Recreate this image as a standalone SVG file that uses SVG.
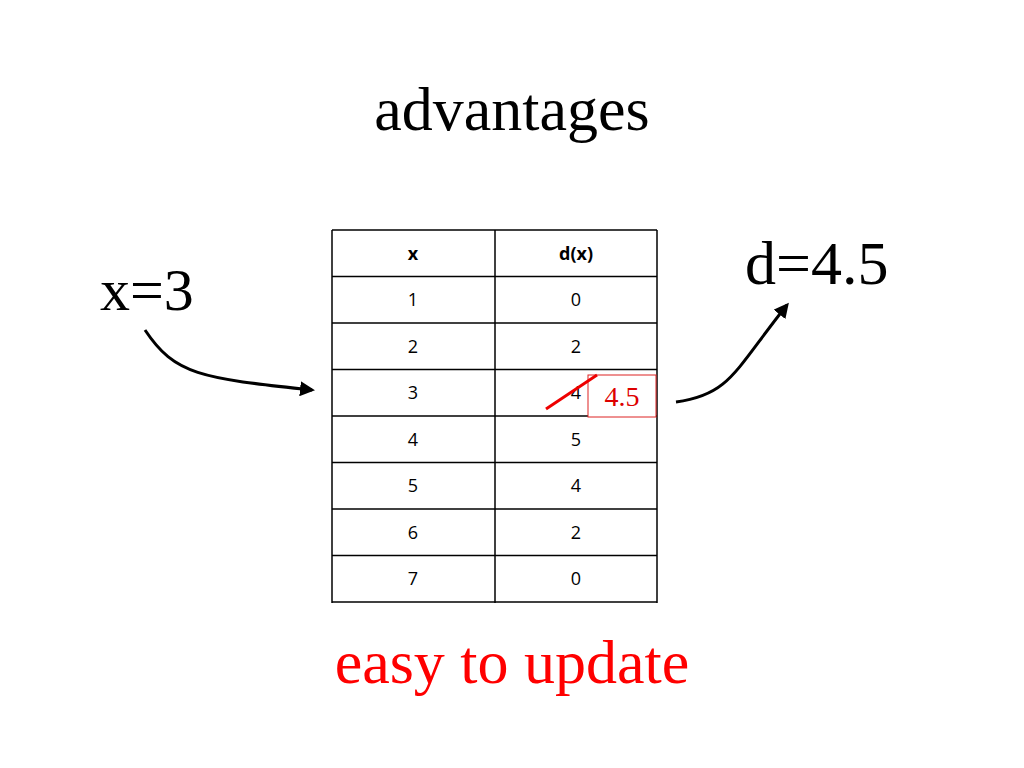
<svg xmlns="http://www.w3.org/2000/svg" width="1024" height="768" viewBox="0 0 1024 768">
<style>
.serif{font-family:"Liberation Serif","Times New Roman",serif}
.cell{font-family:"Open Sans","Noto Sans",sans-serif;font-size:18px;text-anchor:middle}
.ln{stroke:#000;stroke-width:1.5}
</style>
<defs><marker id="ah" viewBox="0 0 10 10" refX="8" refY="5" markerWidth="5" markerHeight="5" orient="auto"><path d="M0,0L10,5L0,10z" fill="#000"/></marker></defs>
<rect width="1024" height="768" fill="#fff"/>
<text class="serif" x="512" y="130" font-size="62" text-anchor="middle">advantages</text>
<g id="x3"><text class="serif" x="100" y="310" font-size="60">x=3</text></g>
<g id="d45"><text class="serif" x="745" y="284" font-size="62">d=4.5</text></g>
<g id="table">
<g class="ln">
<line x1="332" y1="230" x2="332" y2="603"/><line x1="495" y1="230" x2="495" y2="603"/><line x1="657" y1="230" x2="657" y2="603"/>
<line x1="332" y1="230" x2="657" y2="230"/><line x1="332" y1="276.5" x2="657" y2="276.5"/><line x1="332" y1="323" x2="657" y2="323"/><line x1="332" y1="369.5" x2="657" y2="369.5"/><line x1="332" y1="416" x2="657" y2="416"/><line x1="332" y1="462.5" x2="657" y2="462.5"/><line x1="332" y1="509" x2="657" y2="509"/><line x1="332" y1="555.5" x2="657" y2="555.5"/><line x1="332" y1="602" x2="657" y2="602"/>
</g>
<text class="cell" x="413" y="260" font-weight="bold">x</text><text class="cell" x="576" y="260" font-weight="bold">d(x)</text>
<text class="cell" x="413" y="306">1</text><text class="cell" x="576" y="306">0</text>
<text class="cell" x="413" y="353">2</text><text class="cell" x="576" y="353">2</text>
<text class="cell" x="413" y="399">3</text><text class="cell" x="576" y="399">4</text>
<text class="cell" x="413" y="446">4</text><text class="cell" x="576" y="446">5</text>
<text class="cell" x="413" y="492">5</text><text class="cell" x="576" y="492">4</text>
<text class="cell" x="413" y="539">6</text><text class="cell" x="576" y="539">2</text>
<text class="cell" x="413" y="585">7</text><text class="cell" x="576" y="585">0</text>
</g>
<g id="update">
<rect x="588" y="375" width="68" height="42" fill="#fff" stroke="#d22" stroke-width="1"/>
<line x1="546" y1="409" x2="597" y2="375" stroke="#e00" stroke-width="3"/>
<text x="622" y="406" font-family="Liberation Serif, Times New Roman, serif" font-size="28" fill="#d00" text-anchor="middle">4.5</text>
</g>
<g id="connectors" fill="none" stroke="#000" stroke-width="3">
<path d="M145,330 C175,375 200,378 312,390" marker-end="url(#ah)"/>
<path d="M676,402 C730,395 735,370 787,305" marker-end="url(#ah)"/>
</g>
<text class="serif" x="512" y="683" font-size="62" fill="#f00" text-anchor="middle">easy to update</text>
</svg>
